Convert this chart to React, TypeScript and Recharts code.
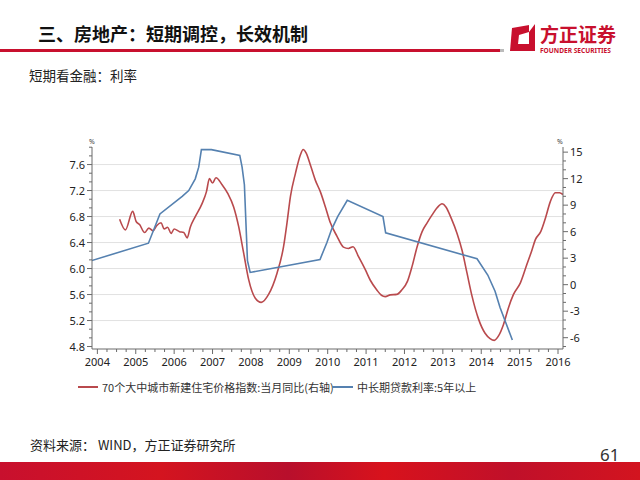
import React from "react";
import { LineChart, Line, XAxis, YAxis, ReferenceLine } from "recharts";

// x positions are in fractional years
const yearTicks = [2004, 2005, 2006, 2007, 2008, 2009, 2010, 2011, 2012, 2013, 2014, 2015, 2016];
const rateTicks = [4.8, 5.2, 5.6, 6.0, 6.4, 6.8, 7.2, 7.6];
const priceTicks = [-6, -3, 0, 3, 6, 9, 12, 15];

// 中长期贷款利率:5年以上 (left axis, %)
const rateDates = [
  2003.84, 2005.33, 2005.63, 2006.21, 2006.38, 2006.55, 2006.64, 2006.71, 2006.97, 2007.71,
  2007.77, 2007.83, 2007.91, 2007.98, 2009.8, 2009.98, 2010.1, 2010.26, 2010.51, 2011.44,
  2011.51, 2013.89, 2014.17, 2014.36, 2014.49, 2014.65, 2014.81,
];
const rateValues = [
  6.12, 6.39, 6.84, 7.11, 7.2, 7.38, 7.56, 7.83, 7.83, 7.74,
  7.56, 7.29, 6.12, 5.94, 6.14, 6.4, 6.6, 6.8, 7.05, 6.8,
  6.55, 6.15, 5.9, 5.65, 5.4, 5.15, 4.9,
];

// 70个大中城市新建住宅价格指数:当月同比 (right axis, %)
const priceDates = [
  2004.58, 2004.73, 2004.92, 2005.01, 2005.1, 2005.23, 2005.34, 2005.45, 2005.55, 2005.66,
  2005.74, 2005.83, 2005.92, 2006.0, 2006.14, 2006.25, 2006.34, 2006.42, 2006.55, 2006.73,
  2006.84, 2006.92, 2007.0, 2007.09, 2007.25, 2007.4, 2007.55, 2007.68, 2007.81, 2007.94,
  2008.11, 2008.27, 2008.46, 2008.68, 2008.85, 2008.94, 2009.03, 2009.16, 2009.29, 2009.36,
  2009.44, 2009.56, 2009.68, 2009.81, 2009.94, 2010.07, 2010.24, 2010.41, 2010.54, 2010.66,
  2010.8, 2010.98, 2011.11, 2011.28, 2011.4, 2011.5, 2011.63, 2011.8, 2011.93, 2012.08,
  2012.2, 2012.33, 2012.46, 2012.59, 2012.72, 2012.85, 2012.98, 2013.08, 2013.22, 2013.37,
  2013.5, 2013.63, 2013.76, 2013.93, 2014.1, 2014.23, 2014.34, 2014.45, 2014.58, 2014.71,
  2014.84, 2015.02, 2015.19, 2015.32, 2015.41, 2015.55, 2015.67, 2015.8, 2015.93, 2016.04,
  2016.13,
];
const priceValues = [
  7.4, 6.2, 8.3, 7.15, 6.8, 5.9, 6.4, 6.1, 6.7, 7.0,
  6.3, 6.5, 5.8, 6.3, 6.0, 5.9, 5.3, 6.5, 7.7, 9.2,
  10.5, 12.0, 11.5, 12.1, 11.3, 10.3, 8.8, 6.6, 3.6, 0.6,
  -1.5, -2.0, -1.1, 1.3, 4.3, 7.0, 10.0, 12.6, 14.7, 15.3,
  14.9, 13.4, 11.8, 10.5, 8.8, 7.0, 5.5, 4.25, 4.1, 4.3,
  3.2, 1.7, 0.5, -0.6, -1.2, -1.35, -1.15, -1.1, -0.6, 0.4,
  2.1, 4.3, 6.0, 7.0, 7.9, 8.7, 9.15, 8.8, 7.5, 5.8,
  3.9, 1.3, -1.3, -3.9, -5.5, -6.1, -6.3, -5.8, -4.5, -2.6,
  -1.1, 0.2, 2.3, 3.9, 5.1, 6.0, 7.5, 9.4, 10.4, 10.4,
  10.2,
];

const rateData = rateDates.map((x, i) => ({ x, v: rateValues[i] }));
const priceData = priceDates.map((x, i) => ({ x, v: priceValues[i] }));

// minor ticks: quarters on x, thirds of a step on the y axes
const xAllTicks = yearTicks.flatMap((y) => (y < 2016 ? [y, y + 0.25, y + 0.5, y + 0.75] : [y]));
const rateAllTicks = rateTicks
  .flatMap((t) => [t, t + 0.4 / 3, t + 0.8 / 3])
  .filter((t) => t < 7.87);
const priceAllTicks = [-7, -6, -5, -4, -3, -2, -1, 0, 1, 2, 3, 4, 5, 6, 7, 8, 9, 10, 11, 12, 13, 14, 15];

const RED = "#b94a4d";
const BLUE = "#5581b0";
const AXIS = "#6b6b6b";
const TICK_FONT = "'Noto Sans', 'Open Sans', sans-serif";
const CJK = "'Noto Sans CJK SC', 'Noto Sans', sans-serif";

const isMajor = (v: number, list: number[]) => list.some((t) => Math.abs(t - v) < 1e-6);

const XTick = (props: any) => {
  const { x, y, payload } = props;
  const major = isMajor(payload.value, yearTicks);
  return (
    <g>
      <line x1={x} x2={x} y1={y} y2={y + (major ? 5 : 3)} stroke={AXIS} />
      {major && (
        <text x={x} y={y + 17} textAnchor="middle" fontSize={11} fill="#222" fontFamily={TICK_FONT}>
          {payload.value}
        </text>
      )}
    </g>
  );
};

const LeftTick = (props: any) => {
  const { x, y, payload } = props;
  const major = isMajor(payload.value, rateTicks);
  return (
    <g>
      <line x1={x} x2={x - (major ? 5 : 3)} y1={y} y2={y} stroke={AXIS} />
      {major && (
        <text x={x - 7} y={y + 4} textAnchor="end" fontSize={11} fill="#222" fontFamily={TICK_FONT}>
          {payload.value.toFixed(1)}
        </text>
      )}
    </g>
  );
};

const RightTick = (props: any) => {
  const { x, y, payload } = props;
  const major = isMajor(payload.value, priceTicks);
  return (
    <g>
      <line x1={x} x2={x + (major ? 5 : 3)} y1={y} y2={y} stroke={AXIS} />
      {major && (
        <text x={x + 7} y={y + 4} textAnchor="start" fontSize={11} fill="#222" fontFamily={TICK_FONT}>
          {payload.value}
        </text>
      )}
    </g>
  );
};

function Logo() {
  return (
    <div style={{ position: "absolute", left: 509, top: 23 }}>
      <svg width={28} height={29} style={{ position: "absolute", left: 0, top: 0 }}>
        <path d="M3,5 L26,1 L26,28 L1,28 Z" fill="#c8102e" />
        <path d="M10,12 L20,9 L20,21 L9,21 Z" fill="#fff" />
        <path d="M20,1 L26,1 L20,9 Z" fill="#fff" />
      </svg>
      <div
        style={{
          position: "absolute",
          left: 31,
          top: 0,
          fontFamily: CJK,
          fontWeight: 700,
          fontSize: 19,
          color: "#c8102e",
          whiteSpace: "nowrap",
          lineHeight: "22px",
        }}
      >
        方正证券
      </div>
      <div
        style={{
          position: "absolute",
          left: 31,
          top: 23,
          fontFamily: TICK_FONT,
          fontWeight: 700,
          fontSize: 6.6,
          color: "#c8102e",
          whiteSpace: "nowrap",
        }}
      >
        FOUNDER SECURITIES
      </div>
    </div>
  );
}

function LegendRow() {
  const item = (color: string, label: string, left: number, lineW: number) => (
    <div style={{ position: "absolute", left, top: 378, display: "flex", alignItems: "center", whiteSpace: "nowrap" }}>
      <div style={{ width: lineW, height: 2, background: color, marginRight: 4 }} />
      <span style={{ fontFamily: CJK, fontSize: 11, color: "#333", lineHeight: "18px" }}>{label}</span>
    </div>
  );
  return (
    <>
      {item(RED, "70个大中城市新建住宅价格指数:当月同比(右轴)", 78, 20)}
      {item(BLUE, "中长期贷款利率:5年以上", 332, 21)}
    </>
  );
}

export default function App() {
  return (
    <div
      style={{
        position: "absolute",
        left: 0,
        top: 0,
        width: 640,
        height: 480,
        background: "#fff",
        overflow: "hidden",
      }}
    >
      <div
        style={{
          position: "absolute",
          left: 38,
          top: 21,
          fontFamily: CJK,
          fontWeight: 700,
          fontSize: 18,
          color: "#111",
          whiteSpace: "nowrap",
          lineHeight: "24px",
        }}
      >
        三、房地产：短期调控，长效机制
      </div>
      <div style={{ position: "absolute", left: 0, top: 49, width: 500, height: 3, background: "#c8102e" }} />
      <div style={{ position: "absolute", left: 500, top: 49, width: 4, height: 3, background: "#bbb" }} />
      <Logo />
      <div
        style={{
          position: "absolute",
          left: 29,
          top: 66,
          fontFamily: CJK,
          fontSize: 13.5,
          color: "#222",
          whiteSpace: "nowrap",
          lineHeight: "18px",
        }}
      >
        短期看金融：利率
      </div>

      <div style={{ position: "absolute", left: 0, top: 0 }}>
        <LineChart width={640} height={480} margin={{ top: 147, right: 37, bottom: 101, left: 52 }}>
          <XAxis
            dataKey="x"
            type="number"
            domain={[2003.86, 2016.13]}
            allowDataOverflow
            ticks={xAllTicks}
            interval={0}
            height={30}
            tickSize={0}
            tickMargin={0}
            tickLine={false}
            axisLine={{ stroke: AXIS }}
            tick={<XTick />}
          />
          <YAxis
            yAxisId="left"
            orientation="left"
            type="number"
            domain={[4.762, 7.87]}
            allowDataOverflow
            ticks={rateAllTicks}
            interval={0}
            width={40}
            tickSize={0}
            tickMargin={0}
            tickLine={false}
            axisLine={{ stroke: AXIS }}
            tick={<LeftTick />}
          />
          <YAxis
            yAxisId="right"
            orientation="right"
            type="number"
            domain={[-7.28, 15.58]}
            allowDataOverflow
            ticks={priceAllTicks}
            interval={0}
            width={40}
            tickSize={0}
            tickMargin={0}
            tickLine={false}
            axisLine={{ stroke: AXIS }}
            tick={<RightTick />}
          />
          {rateTicks.slice(1).map((t) => (
            <ReferenceLine key={t} yAxisId="left" y={t} stroke="#e2e2e2" strokeWidth={1} />
          ))}
          <Line
            yAxisId="right"
            data={priceData}
            dataKey="v"
            type="monotone"
            stroke={RED}
            strokeWidth={1.6}
            dot={false}
            isAnimationActive={false}
          />
          <Line
            yAxisId="left"
            data={rateData}
            dataKey="v"
            type="linear"
            stroke={BLUE}
            strokeWidth={1.6}
            dot={false}
            isAnimationActive={false}
          />
        </LineChart>
      </div>

      <div style={{ position: "absolute", left: 89, top: 137, fontSize: 7, fontFamily: TICK_FONT, color: "#444" }}>%</div>
      <div style={{ position: "absolute", left: 557, top: 137, fontSize: 7, fontFamily: TICK_FONT, color: "#444" }}>%</div>

      <LegendRow />

      <div
        style={{
          position: "absolute",
          left: 30,
          top: 436,
          fontFamily: CJK,
          fontSize: 13,
          color: "#222",
          whiteSpace: "nowrap",
          lineHeight: "18px",
        }}
      >
        资料来源： WIND，方正证券研究所
      </div>
      <div
        style={{
          position: "absolute",
          left: 0,
          top: 462,
          width: 640,
          height: 18,
          background:
            "linear-gradient(90deg, #c8102e 0%, #d4141f 25%, #b80f2c 45%, #d8121c 60%, #c0102a 80%, #d3141f 100%)",
        }}
      />
      <div
        style={{
          position: "absolute",
          left: 600,
          top: 444,
          fontFamily: TICK_FONT,
          fontSize: 17,
          color: "#333",
          lineHeight: "22px",
        }}
      >
        61
      </div>
    </div>
  );
}
